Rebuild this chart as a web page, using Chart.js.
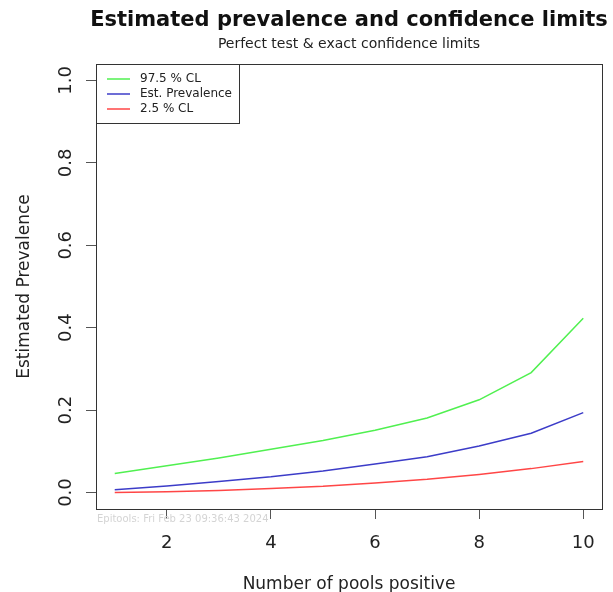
<!DOCTYPE html>
<html>
<head>
<meta charset="utf-8">
<script src="https://cdn.jsdelivr.net/npm/chart.js@4.4.1/dist/chart.umd.min.js"></script>
<style>
  html, body { margin: 0; padding: 0; background: #fff; }
  #wrap { width: 613px; height: 592px; }
</style>
</head>
<body>
<div id="wrap"><canvas id="prevChart"></canvas></div>
<script>
// number of positive pools and the three curves
const poolsPositive = [1, 2, 3, 4, 5, 6, 7, 8, 9, 10];
const upperCL = [0.046, 0.065, 0.084, 0.105, 0.126, 0.151, 0.181, 0.225, 0.291, 0.423];
const estPrevalence = [0.007, 0.016, 0.027, 0.038, 0.052, 0.069, 0.087, 0.113, 0.144, 0.194];
const lowerCL = [0.0003, 0.002, 0.005, 0.010, 0.015, 0.023, 0.032, 0.044, 0.058, 0.075];
const seriesNames = ["97.5 % CL", "Est. Prevalence", "2.5 % CL"];
const xTicks = [2, 4, 6, 8, 10];
const yTicks = [0, 0.2, 0.4, 0.6, 0.8, 1.0];

const mainTitle = "Estimated prevalence and confidence limits";
const subTitle = "Perfect test & exact confidence limits";
const stamp = "Epitools: Fri Feb 23 09:36:43 2024";

const toPoints = (vals) => vals.map((v, i) => ({ x: poolsPositive[i], y: v }));

// R style box, titles, legend and time stamp
const rStyle = {
  id: "rStyle",
  afterDraw(chart) {
    const ctx = chart.ctx;
    const a = chart.chartArea;
    const cx = (a.left + a.right) / 2;
    ctx.save();

    ctx.strokeStyle = "#333";
    ctx.lineWidth = 1;
    ctx.strokeRect(a.left + 0.5, a.top + 0.5, a.right - a.left, a.bottom - a.top);

    ctx.fillStyle = "#111";
    ctx.textAlign = "center";
    ctx.textBaseline = "middle";
    ctx.font = "bold 21px 'DejaVu Sans'";
    ctx.fillText(mainTitle, cx, 21);
    ctx.fillStyle = "#222";
    ctx.font = "14px 'DejaVu Sans'";
    ctx.fillText(subTitle, cx, 44);

    // legend
    const lx = a.left, ly = a.top;
    ctx.fillStyle = "#fff";
    ctx.fillRect(lx, ly, 143, 59);
    ctx.strokeStyle = "#333";
    ctx.strokeRect(lx + 0.5, ly + 0.5, 143, 59);
    ctx.font = "12px 'DejaVu Sans'";
    ctx.textAlign = "left";
    chart.data.datasets.forEach((ds, i) => {
      const y = ly + 15 + i * 15;
      ctx.strokeStyle = ds.borderColor;
      ctx.lineWidth = 1.5;
      ctx.beginPath();
      ctx.moveTo(lx + 11, y);
      ctx.lineTo(lx + 34, y);
      ctx.stroke();
      ctx.fillStyle = "#222";
      ctx.fillText(ds.label, lx + 44, y);
    });

    ctx.fillStyle = "#d4d4d4";
    ctx.font = "10px 'DejaVu Sans'";
    ctx.fillText(stamp, a.left + 1, a.bottom + 10);
    ctx.restore();
  }
};

const lineColors = ["rgb(80,240,80)", "rgb(60,60,200)", "rgb(255,70,70)"];
const seriesValues = [upperCL, estPrevalence, lowerCL];

const config = {
  type: "line",
  data: {
    datasets: seriesValues.map((vals, i) => ({
      label: seriesNames[i],
      data: toPoints(vals),
      borderColor: lineColors[i],
      backgroundColor: lineColors[i],
      borderWidth: 1.5,
      pointRadius: 0,
      tension: 0,
      fill: false,
    })),
  },
  options: {
    responsive: true,
    maintainAspectRatio: false,
    animation: false,
    layout: { padding: { left: 0, right: 11, top: 64, bottom: 0 } },
    plugins: {
      legend: { display: false },
      title: { display: false },
      tooltip: { enabled: false },
    },
    scales: {
      x: {
        type: "linear",
        min: 0.64,
        max: 10.36,
        afterBuildTicks: (s) => { s.ticks = xTicks.map((v) => ({ value: v })); },
        afterFit: (s) => { s.height = 83; },
        grid: { drawOnChartArea: false, drawTicks: true, tickLength: 10, color: "#555" },
        border: { display: false },
        ticks: {
          font: { family: "DejaVu Sans", size: 18 },
          color: "#222",
          padding: 14,
          maxRotation: 0,
        },
        title: {
          display: true,
          text: "Number of pools positive",
          font: { family: "DejaVu Sans", size: 17 },
          color: "#222",
          padding: { top: -3, bottom: -3 },
        },
      },
      y: {
        type: "linear",
        min: -0.04,
        max: 1.04,
        afterBuildTicks: (s) => { s.ticks = yTicks.map((v) => ({ value: v })); },
        afterFit: (s) => { s.width = 96; },
        grid: { drawOnChartArea: false, drawTicks: true, tickLength: 10, color: "#555" },
        border: { display: false },
        ticks: {
          font: { family: "DejaVu Sans", size: 18 },
          color: "#222",
          padding: 5,
          minRotation: 90,
          maxRotation: 90,
          crossAlign: "center",
          callback: (v) => v.toFixed(1),
        },
        title: {
          display: true,
          text: "Estimated Prevalence",
          font: { family: "DejaVu Sans", size: 17 },
          color: "#222",
          padding: { top: 14, bottom: 0 },
        },
      },
    },
  },
  plugins: [rStyle],
};

new Chart(document.getElementById("prevChart"), config);
</script>
</body>
</html>
